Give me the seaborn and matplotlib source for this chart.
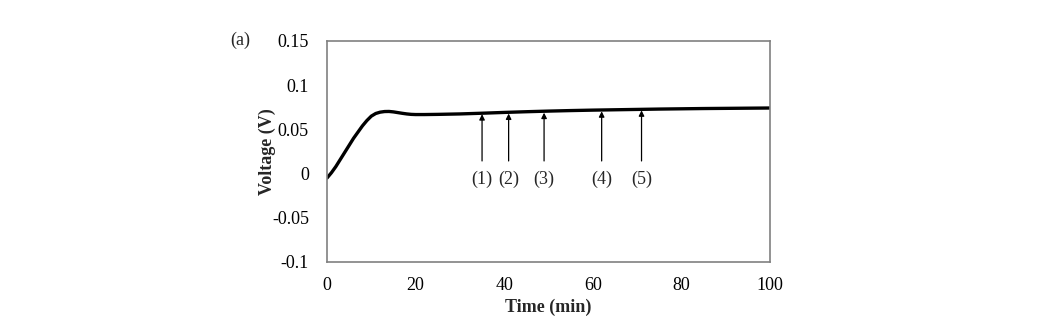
import matplotlib
matplotlib.use("Agg")
import matplotlib.pyplot as plt
import seaborn as sns
import pandas as pd

sns.set_theme(style="white")
plt.rcParams['font.family'] = ['Liberation Serif', 'DejaVu Serif']

time_min = [0, 1, 2, 3, 4, 5, 6, 7, 8, 9, 10, 11, 12, 13, 14, 15, 16, 17, 18, 19, 20,
            22, 25, 30, 35, 40, 45, 50, 55, 60, 65, 70, 75, 80, 85, 90, 95, 100]
voltage = [-0.005, 0.001, 0.008, 0.016, 0.024, 0.032, 0.040, 0.047, 0.054, 0.060, 0.065,
           0.0680, 0.0695, 0.0702, 0.0703, 0.0698, 0.0690, 0.0682, 0.0675, 0.0670, 0.0668,
           0.0668, 0.0670, 0.0675, 0.0683, 0.0692, 0.0700, 0.0707, 0.0713, 0.0718, 0.0722,
           0.0726, 0.0730, 0.0733, 0.0736, 0.0738, 0.0740, 0.0742]
arrow_times = [35, 41, 49, 62, 71]
arrow_labels = ["(1)", "(2)", "(3)", "(4)", "(5)"]
x_ticks = [0, 20, 40, 60, 80, 100]
y_ticks = [-0.1, -0.05, 0, 0.05, 0.1, 0.15]
y_ticklabels = ["-0.1", "-0.05", "0", "0.05", "0.1", "0.15"]

df = pd.DataFrame({"t": time_min, "v": voltage})

fig = plt.figure(figsize=(10.4, 3.34), dpi=100)
ax = fig.add_axes([327/1040, 1 - 262/334, (770-327)/1040, (262-41)/334])
sns.lineplot(data=df, x="t", y="v", ax=ax, color="black", linewidth=2.4)

for t, lab in zip(arrow_times, arrow_labels):
    ax.annotate("", xy=(t, 0.0672 + (t - 35) * 0.00012), xytext=(t, 0.0143),
                arrowprops=dict(arrowstyle="-|>", color="black", lw=0.9,
                                mutation_scale=8, shrinkA=0, shrinkB=0))
    ax.text(t, -0.006, lab, ha="center", va="center", fontsize=13)

ax.set_xlim(0, 100)
ax.set_ylim(-0.1, 0.15)
ax.set_xticks(x_ticks)
ax.set_xticklabels([str(v) for v in x_ticks])
ax.set_yticks(y_ticks)
ax.set_yticklabels(y_ticklabels)
ax.tick_params(direction="in", length=4, width=1, color="#808080",
               labelsize=13, labelcolor="black")
ax.tick_params(axis="y", pad=13)
ax.tick_params(axis="x", pad=11)
for s in ax.spines.values():
    s.set_color("#808080")
    s.set_linewidth(1.2)
ax.set_xlabel("Time (min)", fontsize=13, fontweight="bold", labelpad=3)
ax.set_ylabel("Voltage (V)", fontsize=13, fontweight="bold", labelpad=-3)
fig.text(240/1040, 1 - 40/334, "(a)", fontsize=13, ha="center", va="center")

fig.savefig("out.png", dpi=100)
